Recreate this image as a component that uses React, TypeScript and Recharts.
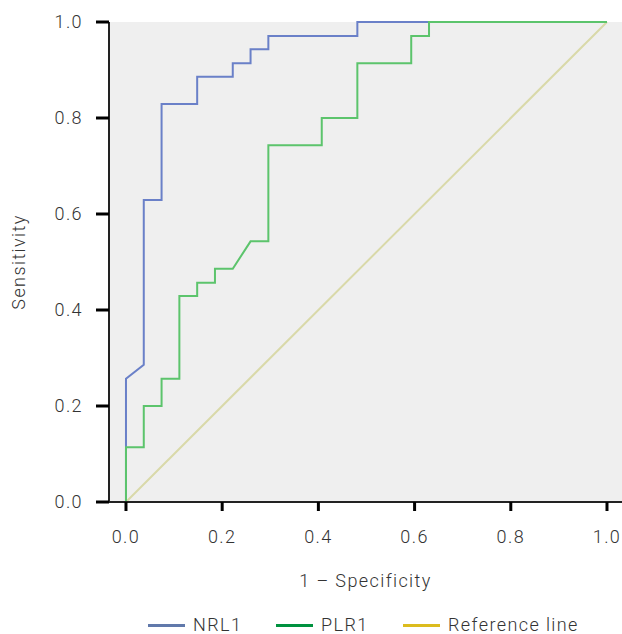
import React from 'react';
import { LineChart, Line, XAxis, YAxis, CartesianGrid, Legend } from 'recharts';

const nrlX = [0, 0, 0.037, 0.037, 0.074, 0.074, 0.148, 0.148, 0.222, 0.222, 0.259, 0.259, 0.296, 0.296, 0.481, 0.481, 1];
const nrlY = [0, 0.257, 0.286, 0.629, 0.629, 0.829, 0.829, 0.886, 0.886, 0.914, 0.914, 0.943, 0.943, 0.971, 0.971, 1, 1];

const plrX = [0, 0, 0.037, 0.037, 0.074, 0.074, 0.111, 0.111, 0.148, 0.148, 0.185, 0.185, 0.222, 0.259, 0.296, 0.296, 0.407, 0.407, 0.481, 0.481, 0.593, 0.593, 0.63, 0.63, 1];
const plrY = [0, 0.114, 0.114, 0.2, 0.2, 0.257, 0.257, 0.429, 0.429, 0.457, 0.457, 0.486, 0.486, 0.543, 0.543, 0.743, 0.743, 0.8, 0.8, 0.914, 0.914, 0.971, 0.971, 1, 1];

const refX = [0, 1];
const refY = [0, 1];

const xTicks = [0, 0.2, 0.4, 0.6, 0.8, 1.0];
const yTicks = [0, 0.2, 0.4, 0.6, 0.8, 1.0];

const legendItems = [
  { name: 'NRL1', color: '#6179ab' },
  { name: 'PLR1', color: '#00923f' },
  { name: 'Reference line', color: '#dcbc1e' },
];

const zip = (xs: number[], ys: number[]) => xs.map((x, i) => ({ x, y: ys[i] }));
const nrlData = zip(nrlX, nrlY);
const plrData = zip(plrX, plrY);
const refData = zip(refX, refY);

const FONT = 'Roboto, sans-serif';
const TEXT = '#333333';
const FS = 18;
const LS = 1.4;

const itemWidths = [128, 127, undefined];

const LegendContent = () => (
  <div style={{ height: 18, display: 'flex', alignItems: 'center', paddingLeft: 148, fontFamily: FONT, fontWeight: 300, fontSize: FS, letterSpacing: LS, color: TEXT, lineHeight: '18px' }}>
    {legendItems.map((it, i) => (
      <div key={it.name} style={{ display: 'flex', alignItems: 'center', width: itemWidths[i], flexShrink: 0 }}>
        <div style={{ width: 37, height: 3, background: it.color, marginRight: 8 }} />
        <span style={{ whiteSpace: 'nowrap' }}>{it.name}</span>
      </div>
    ))}
  </div>
);

export default function App() {
  const textStyle = { fill: TEXT, fontSize: FS, fontFamily: FONT, fontWeight: 300, letterSpacing: LS };
  return (
    <div style={{ position: 'absolute', left: 0, top: 0 }}>
      <LineChart width={622} height={634} margin={{ top: 22, right: 0, left: 0, bottom: 0 }}>
        <CartesianGrid fill="#efefef" stroke="none" horizontal={false} vertical={false} />
        <XAxis
          xAxisId="top"
          orientation="top"
          type="number"
          domain={[-0.0353, 1.0312]}
          height={0}
          tick={false}
          tickLine={false}
          axisLine={{ stroke: '#222', strokeWidth: 2 }}
        />
        <XAxis
          dataKey="x"
          type="number"
          domain={[-0.0353, 1.0312]}
          allowDataOverflow
          ticks={xTicks}
          tickFormatter={(v: number) => v.toFixed(1)}
          height={114}
          tickSize={9}
          tickMargin={19}
          tick={textStyle}
          tickLine={{ stroke: '#000', strokeWidth: 3 }}
          axisLine={{ stroke: '#222', strokeWidth: 2 }}
          label={{ value: '1 – Specificity', position: 'insideBottom', offset: 29, style: textStyle }}
        />
        <YAxis
          dataKey="y"
          type="number"
          domain={[0, 1]}
          ticks={yTicks}
          tickFormatter={(v: number) => v.toFixed(1)}
          width={109}
          tickSize={13}
          tickMargin={13}
          tick={textStyle}
          tickLine={{ stroke: '#000', strokeWidth: 3 }}
          axisLine={{ stroke: '#222', strokeWidth: 2 }}
          label={{ value: 'Sensitivity', angle: -90, position: 'insideLeft', offset: 19, style: { ...textStyle, textAnchor: 'middle' } }}
        />
        <Legend verticalAlign="bottom" content={<LegendContent />} />
        <Line data={refData} dataKey="y" type="linear" stroke="#d9d9a9" strokeWidth={2} dot={false} isAnimationActive={false} legendType="none" />
        <Line data={nrlData} dataKey="y" type="linear" stroke="#6a80c8" strokeWidth={2} dot={false} isAnimationActive={false} />
        <Line data={plrData} dataKey="y" type="linear" stroke="#5cc46c" strokeWidth={2} dot={false} isAnimationActive={false} />
      </LineChart>
    </div>
  );
}
